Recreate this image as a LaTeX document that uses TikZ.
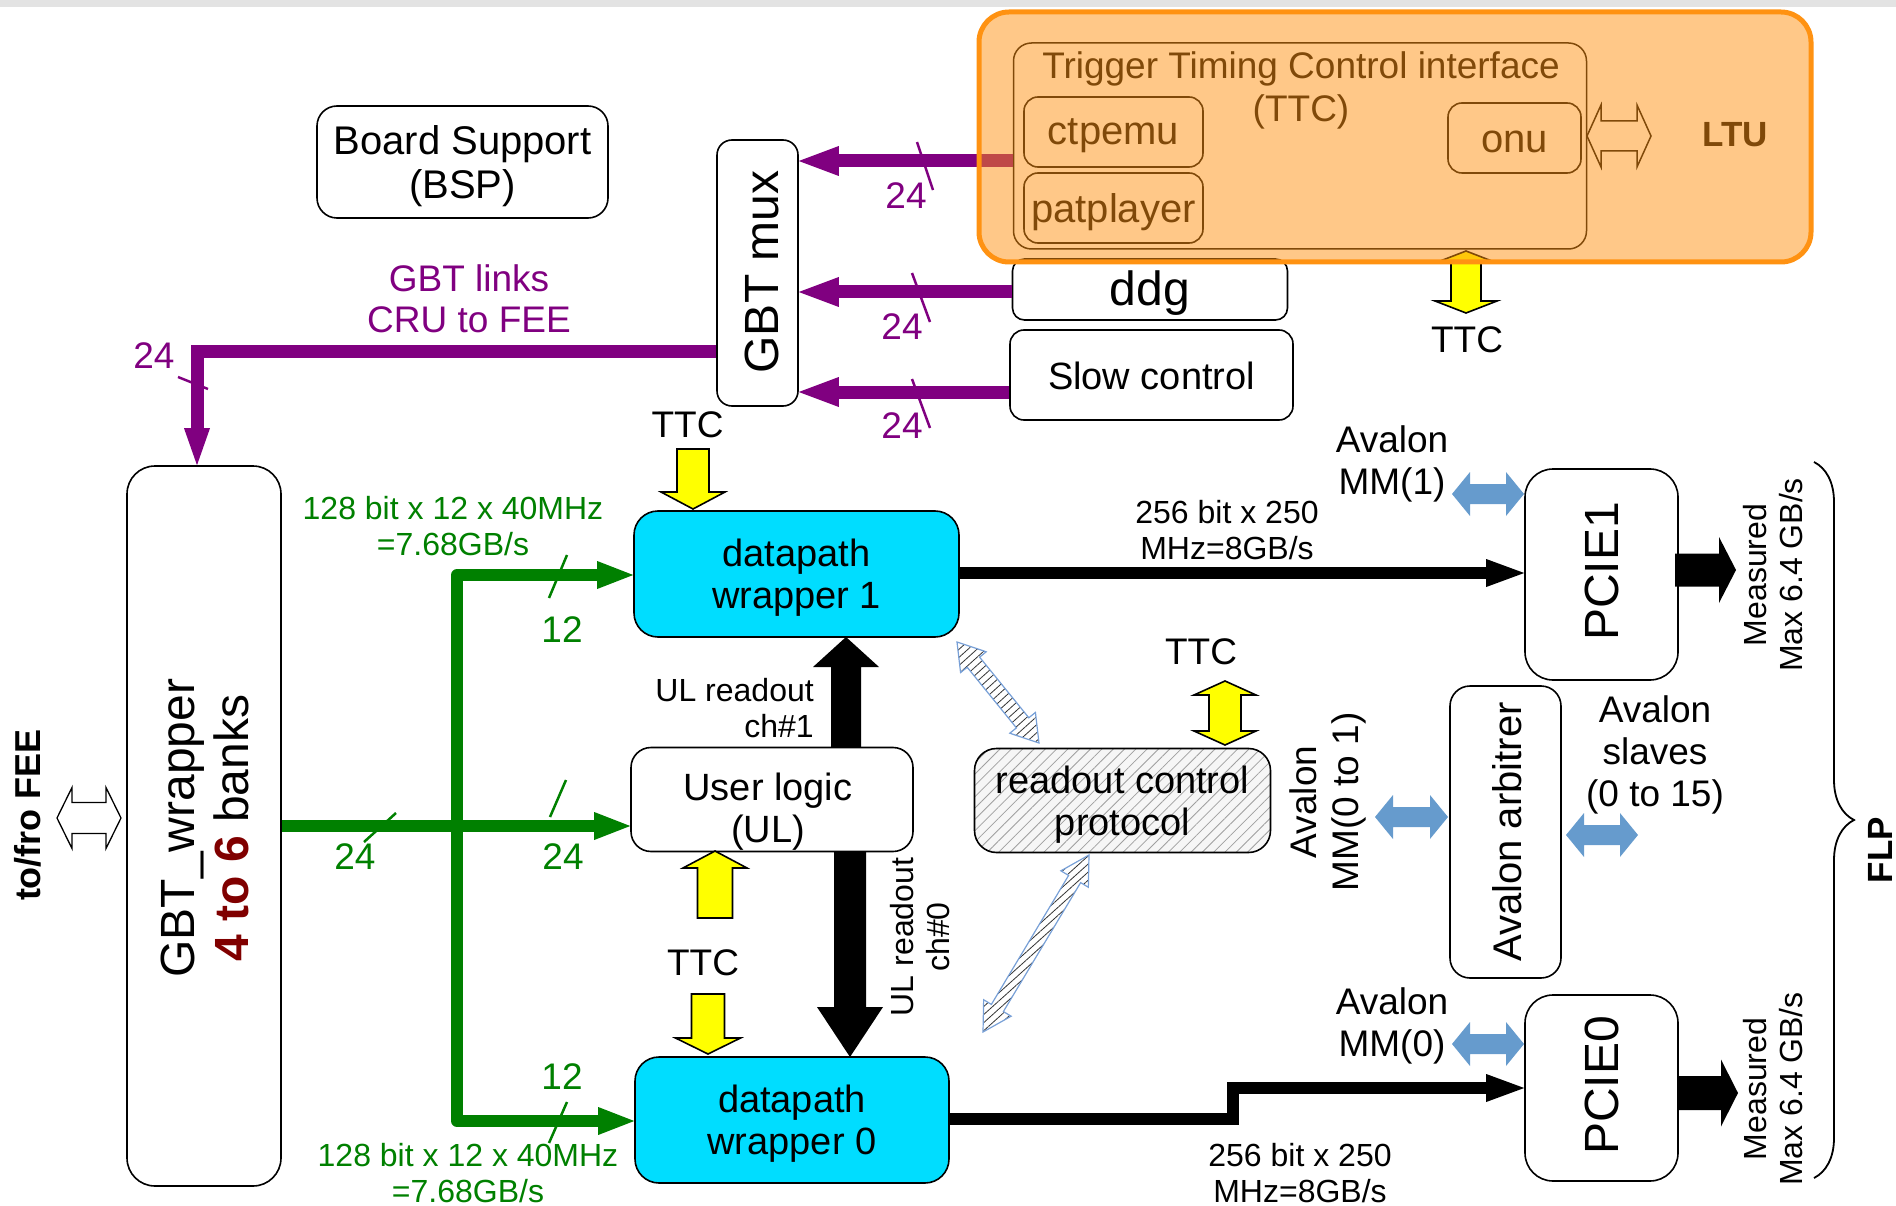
\documentclass[tikz,border=0pt]{standalone}
\usepackage{fontspec}
\setmainfont{Liberation Sans}
\usetikzlibrary{arrows.meta,calc,decorations.pathreplacing,patterns.meta}
\definecolor{purp}{RGB}{128,0,128}
\definecolor{grn}{RGB}{0,128,0}
\definecolor{cyanbox}{RGB}{0,221,255}
\definecolor{ltuor}{RGB}{255,146,18}
\definecolor{dred}{RGB}{128,0,0}
\definecolor{avblue}{RGB}{102,155,205}
\definecolor{hatchblue}{RGB}{120,160,215}
\definecolor{ylw}{RGB}{255,255,0}
\newcommand\fsz[2]{\fontsize{#1}{#2}\selectfont}
\tikzset{
  pics/sarrow/.style n args={4}{code={%
    \path[pic actions] (0,0) -- (#3,-#4) -- (#2,-#4) -- (#2,-#1) -- (-#2,-#1) -- (-#2,-#4) -- (-#3,-#4) -- cycle;}},
  pics/darrow/.style n args={4}{code={%
    \path[pic actions] ({-#1/2},0) -- ({-#1/2+#4},#3) -- ({-#1/2+#4},#2) -- ({#1/2-#4},#2) -- ({#1/2-#4},#3) -- ({#1/2},0) -- ({#1/2-#4},-#3) -- ({#1/2-#4},-#2) -- ({-#1/2+#4},-#2) -- ({-#1/2+#4},-#3) -- cycle;}},
}
% double block arrow between two named coordinates: style, A, B, shaft half, head half, head length
\newcommand\hdarrow[6]{%
  \path[#1] (#2) -- ($(#2)!#6!(#3)!#5!90:(#3)$) -- ($(#2)!#6!(#3)!#4!90:(#3)$)
   -- ($(#3)!#6!(#2)!#4!-90:(#2)$) -- ($(#3)!#6!(#2)!#5!-90:(#2)$) -- (#3)
   -- ($(#3)!#6!(#2)!#5!90:(#2)$) -- ($(#3)!#6!(#2)!#4!90:(#2)$)
   -- ($(#2)!#6!(#3)!#4!-90:(#3)$) -- ($(#2)!#6!(#3)!#5!-90:(#3)$) -- cycle;}
\begin{document}
\begin{tikzpicture}[x=1pt,y=-1pt,
  box/.style={draw, line width=1.6pt, inner sep=0pt, align=center, font=\fsz{38}{42}},
  t38/.style={inner sep=0pt, align=center, font=\fsz{38}{42}},
  t32/.style={inner sep=0pt, align=center, font=\fsz{32}{36}},
  t48/.style={inner sep=0pt, align=center, font=\fsz{48}{54}},
  purpa/.style={draw=purp, line width=13pt, -{Triangle[length=40pt,width=30pt,line width=0pt]}},
  grna/.style={draw=grn, line width=12pt, line join=round, -{Triangle[length=36pt,width=28pt,line width=0pt]}},
  blka/.style={draw=black, line width=12pt, -{Triangle[length=38pt,width=28pt,line width=0pt]}},
  ptick/.style={draw=purp, line width=2.5pt},
  gtick/.style={draw=grn, line width=2.5pt},
  ylwarr/.style={draw=black, line width=1.6pt, fill=ylw},
  blkblock/.style={fill=black},
  bluearr/.style={fill=avblue},
  hatcharr/.style={draw=hatchblue, line width=1.2pt, preaction={fill=white}, pattern={Lines[angle=42,distance=6pt,line width=0.8pt]}, pattern color=black!80},
]
\useasboundingbox (0,0) rectangle (1896,1206);
\fill[gray!22] (0,0) rectangle (1896,7);

% ---------- top boxes
\node[box, rounded corners=20pt, minimum width=291pt, minimum height=112pt] (bsp) at (462.5,162) {};
\node[t38, font=\fsz{40}{44}] (bspt) at ($(bsp.center)+(0,4)$) {Board Support\\(BSP)};
\node[box, rounded corners=15pt, minimum width=81pt, minimum height=266pt] (gbtmux) at (757.5,273) {};
\node[t48, rotate=90] (gbtmuxt) at (762,272) {GBT mux};

% LTU contents (under the orange overlay)
\node[box, rounded corners=18pt, minimum width=573pt, minimum height=206pt, line width=1.5pt] (ttc) at (1300,146) {};
\node[anchor=base, inner sep=0pt, font=\fsz{37}{41}] (ttct) at (1301,79) {Trigger Timing Control interface};
\node[anchor=base, inner sep=0pt, font=\fsz{37}{41}] (ttct2) at (1301,122) {(TTC)};
\node[box, rounded corners=14pt, minimum width=179pt, minimum height=70pt] (ctp) at (1113.5,132) {};
\node[t38, font=\fsz{40}{44}] at ($(ctp.center)+(0,4)$) {ctpemu};
\node[box, rounded corners=14pt, minimum width=179pt, minimum height=70pt] (pat) at (1113.5,208) {};
\node[t38, font=\fsz{40}{44}] at ($(pat.center)+(0,4)$) {patplayer};
\node[box, rounded corners=14pt, minimum width=133pt, minimum height=70pt] (onu) at (1514.5,138) {};
\node[t38, font=\fsz{40}{44}] at ($(onu.center)+(0,4)$) {onu};
\node[inner sep=0pt, font=\bfseries\fsz{35}{40}] (ltut) at (1735,135) {LTU};
\pic[draw=black, line width=1.5pt] at (1619,136) {darrow={64}{15}{31}{14}};
\pic[ylwarr, rotate=90] at (1466,282) {darrow={62}{15}{31}{12}};
\node[t38, font=\fsz{37}{41}] (ttcl4) at (1467,340) {TTC};

\node[box, rounded corners=12pt, minimum width=275pt, minimum height=61pt] (ddg) at (1150,289.5) {};
\node[t48, font=\fsz{48}{52}] at ($(ddg.center)+(0,4)$) {ddg};
\node[box, rounded corners=14pt, minimum width=283pt, minimum height=90pt] (slow) at (1151.5,375) {};
\node[t38] at ($(slow.center)+(0,1)$) {Slow control};

% purple GBT links
\draw[purpa] (ttc.west |- 0,161) -- (gbtmux.east |- 0,161);
\draw[purpa] (ddg.west |- 0,292) -- (gbtmux.east |- 0,292);
\draw[purpa] (slow.west |- 0,392) -- (gbtmux.east |- 0,392);
\draw[ptick] (917,142) -- (933,190);
\draw[ptick] (912,273) -- (930,322);
\draw[ptick] (912,379) -- (930,428);
\node[t38, text=purp, font=\fsz{37}{41}] at (906,196) {24};
\node[t38, text=purp, font=\fsz{37}{41}] at (902,327) {24};
\node[t38, text=purp, font=\fsz{37}{41}] at (902,426) {24};

\node[t38, text=purp, font=\fsz{37}{41}] (gbtl) at (469,298.5) {GBT links\\CRU to FEE};

% GBT wrapper
\node[box, rounded corners=28pt, minimum width=154pt, minimum height=720pt] (gbtw) at (204,826) {};
\node[rotate=90, inner sep=0pt, align=center, font=\fsz{48}{54}] (gbtwt) at (205,828) {GBT\_wrapper\\{\color{dred}\bfseries 4 to 6} banks};
\node[rotate=90, inner sep=0pt, font=\bfseries\fsz{36}{40}] (fee) at (28,815) {to/fro FEE};
\pic[draw=black, fill=white, line width=1.3pt] at (89,818) {darrow={64}{15.5}{30.5}{15}};

\draw[purpa, -{Triangle[length=37pt,width=26pt,line width=0pt]}] (gbtmux.west |- 0,352) -| ($(gbtw.north)+(-7,0)$);
\draw[ptick] (178,377) -- (208,389);
\node[t38, text=purp, font=\fsz{37}{41}] at (154,356) {24};

% central blocks
\node[box, fill=cyanbox, rounded corners=24pt, minimum width=325pt, minimum height=126pt] (dw1) at (796.5,574) {};
\node[t38] at ($(dw1.center)+(0,4)$) {datapath\\wrapper 1};
\node[box, fill=cyanbox, rounded corners=24pt, minimum width=314pt, minimum height=126pt] (dw0) at (792,1120) {};
\node[t38] at ($(dw0.center)+(0,4)$) {datapath\\wrapper 0};
\node[box, rounded corners=20pt, minimum width=282pt, minimum height=104pt] (ul) at (772,799.5) {};
\node[t38] at ($(ul.center)+(-4,12)$) {User logic\\(UL)};
\node[box, rounded corners=22pt, minimum width=296pt, minimum height=104pt, preaction={fill=gray!7}, pattern={Lines[angle=45,distance=8pt,line width=0.8pt]}, pattern color=gray!75] (rcp) at (1122.5,800.5) {};
\node[t38] (rcpt) at ($(rcp.center)+(0,4)$) {readout control\\protocol};

% green links
\draw[grna] (gbtw.east |- 0,826) -- (ul.west |- 0,826);
\draw[grna] (457,826) |- (dw1.west |- 0,575);
\draw[grna] (457,826) |- (dw0.west |- 0,1121);
\draw[gtick] (364,842) -- (396,813);
\draw[gtick] (550,817) -- (566,780);
\draw[gtick] (549,598) -- (567,555);
\draw[gtick] (549,1143) -- (567,1102);
\node[t38, text=grn, font=\fsz{37}{41}] at (355,857) {24};
\node[t38, text=grn, font=\fsz{37}{41}] at (563,857) {24};
\node[t38, text=grn, font=\fsz{37}{41}] at (562,630) {12};
\node[t38, text=grn, font=\fsz{37}{41}] at (562,1077) {12};
\node[t32, text=grn] at (453,526.5) {128 bit x 12 x 40MHz\\=7.68GB/s};
\node[t32, text=grn] at (468,1173.5) {128 bit x 12 x 40MHz\\=7.68GB/s};

% TTC yellow arrows
\node[t38, font=\fsz{37}{41}] (ttcl1) at (687.5,425) {TTC};
\pic[ylwarr] at (693,509) {sarrow={60}{16}{32}{17}};
\pic[ylwarr, rotate=180] at (715,851) {sarrow={67}{17.5}{32}{17}};
\node[t38, font=\fsz{37}{41}] (ttcl2) at (703,963) {TTC};
\pic[ylwarr] at (708,1054) {sarrow={60}{16.5}{32.5}{16}};
\node[t38, font=\fsz{37}{41}] (ttcl3) at (1201,652) {TTC};
\pic[ylwarr, rotate=90] at (1225,713) {darrow={64}{16}{31}{14}};

% UL readout arrows
\pic[blkblock, rotate=180] at (846,637) {sarrow={110}{15}{33}{30}};
\pic[blkblock] at (850,1057) {sarrow={206}{16}{33}{50}};
\node[t32, align=right, anchor=east] at (814,708) {UL readout\\ch\#1};
\node[t32, rotate=90] at (920,937) {UL readout\\ch\#0};

% hatched arrows
\coordinate (ha1) at (957,642);
\coordinate (hb1) at (1039,743);
\coordinate (ha2) at (1089,855);
\coordinate (hb2) at (983,1032);
\hdarrow{hatcharr}{ha1}{hb1}{8pt}{16.5pt}{26pt}
\hdarrow{hatcharr}{ha2}{hb2}{7pt}{16pt}{28pt}

% PCIe and Avalon
\node[box, rounded corners=28pt, minimum width=153pt, minimum height=211pt] (pcie1) at (1601.5,574.5) {};
\node[t48, rotate=90] at (1602,571.5) {PCIE1};
\node[box, rounded corners=28pt, minimum width=153pt, minimum height=186pt] (pcie0) at (1601.5,1088) {};
\node[t48, rotate=90] at (1602,1085.5) {PCIE0};
\node[box, rounded corners=20pt, minimum width=111pt, minimum height=292pt] (arb) at (1505.5,832) {};
\node[t38, rotate=90, font=\fsz{40}{44}] at (1507,832) {Avalon arbitrer};

\draw[blka] (dw1.east |- 0,573) -- (pcie1.west |- 0,573);
\draw[blka] (dw0.east |- 0,1119) -- (1233,1119) -- (1233,1088) -- (pcie0.west |- 0,1088);
\node[t32] at (1227,530) {256 bit x 250\\MHz=8GB/s};
\node[t32] at (1300,1173) {256 bit x 250\\MHz=8GB/s};

\pic[blkblock, rotate=90] at (1736,570) {sarrow={61}{16.5}{33}{17}};
\pic[blkblock, rotate=90] at (1738,1093) {sarrow={61}{17}{33.5}{17}};
\node[t32, rotate=90] at (1773,575) {Measured\\Max 6.4 GB/s};
\node[t32, rotate=90] at (1773,1089) {Measured\\Max 6.4 GB/s};

\node[t38, font=\fsz{37}{42}] at (1392,464) {Avalon\\MM(1)};
\node[t38, font=\fsz{37}{42}] at (1392,1026) {Avalon\\MM(0)};
\node[t38, font=\fsz{37}{42}, rotate=90] at (1328,802) {Avalon\\MM(0 to 1)};
\node[t38, font=\fsz{37}{42}] at (1655,755) {Avalon\\slaves\\(0 to 15)};
\pic[bluearr] at (1488,494) {darrow={72}{10}{22}{18}};
\pic[bluearr] at (1488,1044) {darrow={72}{10}{22}{18}};
\pic[bluearr] at (1411.5,817) {darrow={73}{10}{22}{18}};
\pic[bluearr] at (1602,835) {darrow={72}{10}{22}{18}};

% FLP brace
\draw[line width=1.8pt, decorate, decoration={brace, amplitude=40pt}] (1814,462) -- (1814,1178);
\node[rotate=90, inner sep=0pt, font=\bfseries\fsz{35}{40}] (flp) at (1880,850) {FLP};

% orange LTU overlay
\node[draw=ltuor, line width=5pt, fill=ltuor, fill opacity=0.5, rounded corners=30pt, minimum width=832pt, minimum height=250pt, inner sep=0pt] (ltu) at (1395,137) {};
\end{tikzpicture}
\end{document}
